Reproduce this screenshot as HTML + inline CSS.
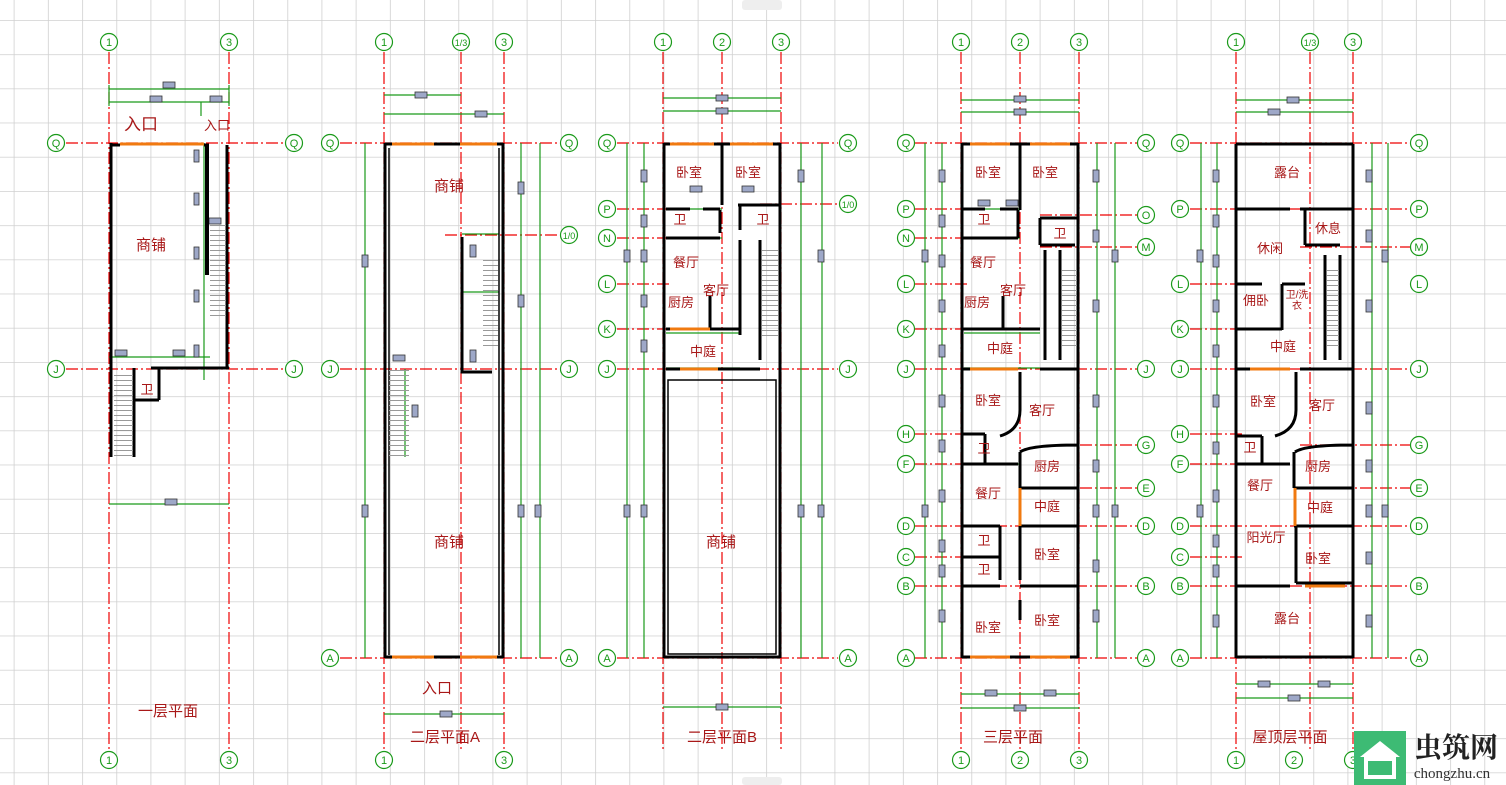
<!DOCTYPE html>
<html><head><meta charset="utf-8"><style>
body{margin:0;background:#fff}
svg{display:block}
.ax{stroke:#e00;stroke-width:1.2;stroke-dasharray:12 3 2 3;fill:none}
.w{stroke:#000;stroke-width:3;fill:none}
.w2{stroke:#000;stroke-width:1.5;fill:none}
.g{stroke:#1a9a1a;stroke-width:1.2;fill:none}
.o{stroke:#f07a10;stroke-width:3;fill:none}
.c{stroke:#1a9a1a;stroke-width:1.2;fill:#fff}
.ct{fill:#1a9a1a;font:11px "Liberation Sans",sans-serif;text-anchor:middle}
.t{fill:#a81818;font:13px "Liberation Sans","Noto Sans CJK SC",sans-serif;text-anchor:middle}
.tl{fill:#a81818;font:15px "Liberation Sans","Noto Sans CJK SC",sans-serif;text-anchor:middle}
.b{fill:#9ea8c8;stroke:#333;stroke-width:.8}
</style></head><body>
<svg width="1506" height="785" viewBox="0 0 1506 785" xmlns="http://www.w3.org/2000/svg">
<defs>
<pattern id="gr" x="13.7" y="20" width="34.2" height="34.2" patternUnits="userSpaceOnUse">
<path d="M0 0H34.2M0 0V34.2" stroke="#d0d0d0" stroke-width="1.6" fill="none"/>
</pattern>
<pattern id="stp" width="10" height="5" patternUnits="userSpaceOnUse"><path d="M0 0.5H10" stroke="#999" stroke-width="1"/></pattern>
</defs>
<rect width="1506" height="785" fill="#fff"/>
<rect width="1506" height="785" fill="url(#gr)"/>

<!-- ================= PLAN 1 ================= -->
<g>
<path class="ax" d="M109 52V750M229 52V750M66 143H284M66 369H284"/>
<path class="g" d="M109 89H229M109 102H229M109 504H229M109 85V106M229 85V106M201 102V116M204 143V380M123 357H210M109 357H123"/>
<rect class="b" x="163" y="82" width="12" height="6"/><rect class="b" x="150" y="96" width="12" height="6"/><rect class="b" x="210" y="96" width="12" height="6"/><rect class="b" x="165" y="499" width="12" height="6"/>
<rect class="b" x="194" y="150" width="5" height="12"/><rect class="b" x="194" y="193" width="5" height="12"/><rect class="b" x="194" y="247" width="5" height="12"/><rect class="b" x="194" y="290" width="5" height="12"/><rect class="b" x="194" y="345" width="5" height="12"/>
<rect class="b" x="115" y="350" width="12" height="6"/><rect class="b" x="173" y="350" width="12" height="6"/><rect class="b" x="209" y="218" width="12" height="6"/>
<path class="w" d="M111 143V457M111 145H120M204 145H209M227 145V369M151 368H229M134 368V457M134 400H159M159 369V400"/>
<path d="M207 145V275" stroke="#000" stroke-width="4"/>
<path class="o" d="M120 144H204"/>
<rect x="114" y="372" width="19" height="85" fill="url(#stp)"/>
<rect x="210" y="225" width="16" height="95" fill="url(#stp)"/>
<text class="tl" x="141" y="130" style="font-size:17px">入口</text>
<text class="t" x="217" y="130">入口</text>
<text class="tl" x="151" y="250">商铺</text>
<text class="t" x="147" y="394">卫</text>
<text class="tl" x="168" y="716">一层平面</text>
</g>

<!-- ================= PLAN 2A ================= -->
<g>
<path class="ax" d="M384 52V750M461 52V750M504 52V750M340 143H560M340 369H560M445 235H560M340 658H560"/>
<path class="g" d="M384 95H461M384 114H504M384 714H504M365 143V658M521 143V658M540 143V658M462 234H499M462 292H499M405 369V457"/>
<rect class="b" x="415" y="92" width="12" height="6"/><rect class="b" x="475" y="111" width="12" height="6"/><rect class="b" x="440" y="711" width="12" height="6"/>
<rect class="b" x="362" y="255" width="6" height="12"/><rect class="b" x="362" y="505" width="6" height="12"/><rect class="b" x="518" y="182" width="6" height="12"/><rect class="b" x="518" y="295" width="6" height="12"/><rect class="b" x="518" y="505" width="6" height="12"/><rect class="b" x="535" y="505" width="6" height="12"/>
<rect class="b" x="470" y="245" width="6" height="12"/><rect class="b" x="470" y="350" width="6" height="12"/><rect class="b" x="393" y="355" width="12" height="6"/><rect class="b" x="412" y="405" width="6" height="12"/>
<path class="w" d="M385 143V658M503 143V658M385 144H392M434 144H460M497 144H503M385 657H392M434 657H460M497 657H503M462 237V372H492"/>
<path class="w2" d="M389 148V655M499 148V655"/>
<path class="o" d="M392 144H434M460 144H497M392 657H434M460 657H497"/>
<rect x="483" y="260" width="15" height="90" fill="url(#stp)"/>
<rect x="389" y="370" width="20" height="90" fill="url(#stp)"/>
<text class="tl" x="449" y="191">商铺</text>
<text class="tl" x="449" y="547">商铺</text>
<text class="tl" x="437" y="693">入口</text>
<text class="tl" x="445" y="742">二层平面A</text>
</g>

<!-- ================= PLAN 2B ================= -->
<g>
<path class="ax" d="M663 52V750M722 52V750M781 52V750M617 143H838M617 209H670M617 238H670M617 284H670M617 329H670M617 369H838M617 658H838M760 204H838"/>
<path class="g" d="M663 98H781M663 111H781M663 707H781M627 143V658M644 143V658M801 143V658M822 143V658M666 209H722M666 238H722M666 333H740M666 368H740"/>
<rect class="b" x="716" y="95" width="12" height="6"/><rect class="b" x="716" y="108" width="12" height="6"/><rect class="b" x="716" y="704" width="12" height="6"/>
<g><rect class="b" x="624" y="250" width="6" height="12"/><rect class="b" x="624" y="505" width="6" height="12"/><rect class="b" x="641" y="170" width="6" height="12"/><rect class="b" x="641" y="215" width="6" height="12"/><rect class="b" x="641" y="250" width="6" height="12"/><rect class="b" x="641" y="295" width="6" height="12"/><rect class="b" x="641" y="340" width="6" height="12"/><rect class="b" x="641" y="505" width="6" height="12"/><rect class="b" x="798" y="170" width="6" height="12"/><rect class="b" x="798" y="505" width="6" height="12"/><rect class="b" x="818" y="250" width="6" height="12"/><rect class="b" x="818" y="505" width="6" height="12"/><rect class="b" x="690" y="186" width="12" height="6"/><rect class="b" x="742" y="186" width="12" height="6"/></g>
<path class="w" d="M664 143V658M780 143V658M664 657H780M664 144H670M714 144H730M773 144H780M722 144V205M666 238H720M666 209H690M703 209H720M720 210V233M738 205H780M740 205V230M740 240V335M760 240V360M666 329H710M710 329V296M690 329H740M666 369H700M718 369H760"/>
<path class="w2" d="M668 380H776V654H668Z"/>
<path class="o" d="M670 144H714M730 144H773M670 329H710M680 369H718"/>
<rect x="762" y="250" width="16" height="90" fill="url(#stp)"/>
<text class="t" x="689" y="177">卧室</text><text class="t" x="748" y="177">卧室</text>
<text class="t" x="680" y="224">卫</text><text class="t" x="763" y="224">卫</text>
<text class="t" x="686" y="267">餐厅</text><text class="t" x="716" y="295">客厅</text>
<text class="t" x="681" y="307">厨房</text><text class="t" x="703" y="356">中庭</text>
<text class="tl" x="721" y="547">商铺</text>
<text class="tl" x="722" y="742">二层平面B</text>
</g>

<!-- ================= PLAN 3 ================= -->
<g>
<path class="ax" d="M961 52V750M1020 52V750M1079 52V750M915 143H1137M915 209H968M915 238H968M915 284H968M915 329H968M915 369H1137M915 434H968M915 464H968M915 526H1137M915 557H968M915 586H1137M915 658H1137M1040 215H1137M1040 247H1137M1060 445H1137M1060 488H1137"/>
<path class="g" d="M961 100H1079M961 112H1079M961 694H1079M961 708H1079M925 143V658M942 143V658M1097 143V658M1115 143V658M964 209H1020M964 238H1020M964 333H1040M964 368H1040M964 464H1020"/>
<rect class="b" x="1014" y="96" width="12" height="6"/><rect class="b" x="1014" y="109" width="12" height="6"/><rect class="b" x="985" y="690" width="12" height="6"/><rect class="b" x="1044" y="690" width="12" height="6"/><rect class="b" x="1014" y="705" width="12" height="6"/>
<g><rect class="b" x="922" y="250" width="6" height="12"/><rect class="b" x="922" y="505" width="6" height="12"/><rect class="b" x="939" y="170" width="6" height="12"/><rect class="b" x="939" y="215" width="6" height="12"/><rect class="b" x="939" y="255" width="6" height="12"/><rect class="b" x="939" y="300" width="6" height="12"/><rect class="b" x="939" y="345" width="6" height="12"/><rect class="b" x="939" y="395" width="6" height="12"/><rect class="b" x="939" y="440" width="6" height="12"/><rect class="b" x="939" y="490" width="6" height="12"/><rect class="b" x="939" y="540" width="6" height="12"/><rect class="b" x="939" y="565" width="6" height="12"/><rect class="b" x="939" y="610" width="6" height="12"/><rect class="b" x="1093" y="170" width="6" height="12"/><rect class="b" x="1093" y="230" width="6" height="12"/><rect class="b" x="1093" y="300" width="6" height="12"/><rect class="b" x="1093" y="395" width="6" height="12"/><rect class="b" x="1093" y="460" width="6" height="12"/><rect class="b" x="1093" y="505" width="6" height="12"/><rect class="b" x="1093" y="560" width="6" height="12"/><rect class="b" x="1093" y="610" width="6" height="12"/><rect class="b" x="1112" y="250" width="6" height="12"/><rect class="b" x="1112" y="505" width="6" height="12"/><rect class="b" x="978" y="200" width="12" height="6"/><rect class="b" x="1006" y="200" width="12" height="6"/></g>
<path class="w" d="M962 143V658M1078 143V658M962 657H970M1010 657H1030M1070 657H1078M962 144H970M1010 144H1030M1070 144H1078M1020 144V210M962 238H1018M962 209H985M1000 209H1018M1018 210V238M1040 218H1078M1040 218V245M1040 245H1075M1045 250V360M1060 250V360M962 329H1010M1003 329V296M1000 329H1040M962 369H1018M1040 369H1078M962 434H985M985 434V464M962 464H1018M1020 372V410Q1020 430 1000 436M1020 452Q1030 445 1078 445M1020 452V488M1020 488H1078M1020 526H1078M1020 526V580M962 526H1000M962 557H1000M1000 526V580M962 586H1000M1020 586H1078M1020 600V620"/>
<path class="o" d="M970 144H1010M1030 144H1070M970 657H1010M1030 657H1070M970 369H1018M1020 488V526"/>
<rect x="1062" y="270" width="15" height="80" fill="url(#stp)"/>
<text class="t" x="988" y="177">卧室</text><text class="t" x="1045" y="177">卧室</text>
<text class="t" x="984" y="224">卫</text><text class="t" x="1060" y="238">卫</text>
<text class="t" x="983" y="267">餐厅</text><text class="t" x="1013" y="295">客厅</text>
<text class="t" x="977" y="307">厨房</text><text class="t" x="1000" y="353">中庭</text>
<text class="t" x="988" y="405">卧室</text><text class="t" x="1042" y="415">客厅</text>
<text class="t" x="984" y="453">卫</text><text class="t" x="1047" y="471">厨房</text>
<text class="t" x="988" y="498">餐厅</text><text class="t" x="1047" y="511">中庭</text>
<text class="t" x="984" y="545">卫</text><text class="t" x="1047" y="559">卧室</text>
<text class="t" x="984" y="574">卫</text><text class="t" x="988" y="632">卧室</text>
<text class="t" x="1047" y="625">卧室</text>
<text class="tl" x="1013" y="742">三层平面</text>
</g>

<!-- ================= ROOF ================= -->
<g>
<path class="ax" d="M1236 52V750M1310 52V750M1353 52V750M1190 143H1410M1190 209H1410M1190 284H1243M1190 329H1243M1190 369H1410M1190 434H1243M1190 464H1243M1190 526H1410M1190 557H1243M1190 586H1410M1190 658H1410M1300 247H1410M1300 445H1410M1300 488H1410"/>
<path class="g" d="M1236 100H1353M1236 112H1353M1236 684H1353M1236 698H1353M1201 143V658M1217 143V658M1372 143V658M1388 143V658"/>
<rect class="b" x="1287" y="97" width="12" height="6"/><rect class="b" x="1268" y="109" width="12" height="6"/><rect class="b" x="1258" y="681" width="12" height="6"/><rect class="b" x="1318" y="681" width="12" height="6"/><rect class="b" x="1288" y="695" width="12" height="6"/>
<g><rect class="b" x="1197" y="250" width="6" height="12"/><rect class="b" x="1197" y="505" width="6" height="12"/><rect class="b" x="1213" y="170" width="6" height="12"/><rect class="b" x="1213" y="215" width="6" height="12"/><rect class="b" x="1213" y="255" width="6" height="12"/><rect class="b" x="1213" y="300" width="6" height="12"/><rect class="b" x="1213" y="345" width="6" height="12"/><rect class="b" x="1213" y="395" width="6" height="12"/><rect class="b" x="1213" y="442" width="6" height="12"/><rect class="b" x="1213" y="490" width="6" height="12"/><rect class="b" x="1213" y="535" width="6" height="12"/><rect class="b" x="1213" y="565" width="6" height="12"/><rect class="b" x="1213" y="615" width="6" height="12"/><rect class="b" x="1366" y="170" width="6" height="12"/><rect class="b" x="1366" y="230" width="6" height="12"/><rect class="b" x="1366" y="300" width="6" height="12"/><rect class="b" x="1366" y="402" width="6" height="12"/><rect class="b" x="1366" y="460" width="6" height="12"/><rect class="b" x="1366" y="505" width="6" height="12"/><rect class="b" x="1366" y="552" width="6" height="12"/><rect class="b" x="1366" y="615" width="6" height="12"/><rect class="b" x="1382" y="250" width="6" height="12"/><rect class="b" x="1382" y="505" width="6" height="12"/></g>
<path class="w" d="M1236 144H1353M1236 144V658M1236 657H1353M1353 144V658M1237 209H1290M1300 209H1352M1305 209V245M1305 245H1340M1325 255V360M1340 255V360M1237 284H1262M1282 284V330M1282 284H1305M1237 329H1282M1237 369H1290M1300 369H1352M1296 372V410Q1296 430 1275 436M1237 436H1262M1262 436V464M1237 464H1290M1295 452Q1305 445 1352 445M1294 452V488M1294 488H1352M1294 526H1352M1296 526V583M1237 586H1290M1296 583H1352"/>
<path class="o" d="M1250 369H1290M1295 488V526M1305 586H1345"/>
<rect x="1327" y="270" width="12" height="80" fill="url(#stp)"/>
<text class="t" x="1287" y="177">露台</text><text class="t" x="1328" y="233">休息</text>
<text class="t" x="1270" y="253">休闲</text><text class="t" x="1256" y="305">佣卧</text>
<text class="t" x="1297" y="298" style="font-size:10px">卫/洗</text><text class="t" x="1297" y="309" style="font-size:10px">衣</text>
<text class="t" x="1283" y="351">中庭</text>
<text class="t" x="1263" y="406">卧室</text><text class="t" x="1322" y="410">客厅</text>
<text class="t" x="1250" y="452">卫</text><text class="t" x="1318" y="471">厨房</text>
<text class="t" x="1260" y="490">餐厅</text><text class="t" x="1320" y="512">中庭</text>
<text class="t" x="1266" y="542">阳光厅</text><text class="t" x="1318" y="563">卧室</text>
<text class="t" x="1287" y="623">露台</text>
<text class="tl" x="1290" y="742">屋顶层平面</text>
</g>

<!-- ================= AXIS CIRCLES ================= -->
<g>
<circle class="c" cx="109" cy="42" r="8.5"/><text class="ct" x="109" y="46">1</text>
<circle class="c" cx="229" cy="42" r="8.5"/><text class="ct" x="229" y="46">3</text>
<circle class="c" cx="109" cy="760" r="8.5"/><text class="ct" x="109" y="764">1</text>
<circle class="c" cx="229" cy="760" r="8.5"/><text class="ct" x="229" y="764">3</text>
<circle class="c" cx="56" cy="143" r="8.5"/><text class="ct" x="56" y="147">Q</text>
<circle class="c" cx="294" cy="143" r="8.5"/><text class="ct" x="294" y="147">Q</text>
<circle class="c" cx="56" cy="369" r="8.5"/><text class="ct" x="56" y="373">J</text>
<circle class="c" cx="294" cy="369" r="8.5"/><text class="ct" x="294" y="373">J</text>

<circle class="c" cx="384" cy="42" r="8.5"/><text class="ct" x="384" y="46">1</text>
<circle class="c" cx="461" cy="42" r="8.5"/><text class="ct" x="461" y="46" style="font-size:9px">1/3</text>
<circle class="c" cx="504" cy="42" r="8.5"/><text class="ct" x="504" y="46">3</text>
<circle class="c" cx="384" cy="760" r="8.5"/><text class="ct" x="384" y="764">1</text>
<circle class="c" cx="504" cy="760" r="8.5"/><text class="ct" x="504" y="764">3</text>
<circle class="c" cx="330" cy="143" r="8.5"/><text class="ct" x="330" y="147">Q</text>
<circle class="c" cx="569" cy="143" r="8.5"/><text class="ct" x="569" y="147">Q</text>
<circle class="c" cx="569" cy="235" r="8.5"/><text class="ct" x="569" y="239" style="font-size:9px">1/0</text>
<circle class="c" cx="330" cy="369" r="8.5"/><text class="ct" x="330" y="373">J</text>
<circle class="c" cx="569" cy="369" r="8.5"/><text class="ct" x="569" y="373">J</text>
<circle class="c" cx="330" cy="658" r="8.5"/><text class="ct" x="330" y="662">A</text>
<circle class="c" cx="569" cy="658" r="8.5"/><text class="ct" x="569" y="662">A</text>

<circle class="c" cx="663" cy="42" r="8.5"/><text class="ct" x="663" y="46">1</text>
<circle class="c" cx="722" cy="42" r="8.5"/><text class="ct" x="722" y="46">2</text>
<circle class="c" cx="781" cy="42" r="8.5"/><text class="ct" x="781" y="46">3</text>
<circle class="c" cx="607" cy="143" r="8.5"/><text class="ct" x="607" y="147">Q</text>
<circle class="c" cx="607" cy="209" r="8.5"/><text class="ct" x="607" y="213">P</text>
<circle class="c" cx="607" cy="238" r="8.5"/><text class="ct" x="607" y="242">N</text>
<circle class="c" cx="607" cy="284" r="8.5"/><text class="ct" x="607" y="288">L</text>
<circle class="c" cx="607" cy="329" r="8.5"/><text class="ct" x="607" y="333">K</text>
<circle class="c" cx="607" cy="369" r="8.5"/><text class="ct" x="607" y="373">J</text>
<circle class="c" cx="607" cy="658" r="8.5"/><text class="ct" x="607" y="662">A</text>
<circle class="c" cx="848" cy="143" r="8.5"/><text class="ct" x="848" y="147">Q</text>
<circle class="c" cx="848" cy="204" r="8.5"/><text class="ct" x="848" y="208" style="font-size:9px">1/0</text>
<circle class="c" cx="848" cy="369" r="8.5"/><text class="ct" x="848" y="373">J</text>
<circle class="c" cx="848" cy="658" r="8.5"/><text class="ct" x="848" y="662">A</text>

<circle class="c" cx="961" cy="42" r="8.5"/><text class="ct" x="961" y="46">1</text>
<circle class="c" cx="1020" cy="42" r="8.5"/><text class="ct" x="1020" y="46">2</text>
<circle class="c" cx="1079" cy="42" r="8.5"/><text class="ct" x="1079" y="46">3</text>
<circle class="c" cx="961" cy="760" r="8.5"/><text class="ct" x="961" y="764">1</text>
<circle class="c" cx="1020" cy="760" r="8.5"/><text class="ct" x="1020" y="764">2</text>
<circle class="c" cx="1079" cy="760" r="8.5"/><text class="ct" x="1079" y="764">3</text>
<circle class="c" cx="906" cy="143" r="8.5"/><text class="ct" x="906" y="147">Q</text>
<circle class="c" cx="906" cy="209" r="8.5"/><text class="ct" x="906" y="213">P</text>
<circle class="c" cx="906" cy="238" r="8.5"/><text class="ct" x="906" y="242">N</text>
<circle class="c" cx="906" cy="284" r="8.5"/><text class="ct" x="906" y="288">L</text>
<circle class="c" cx="906" cy="329" r="8.5"/><text class="ct" x="906" y="333">K</text>
<circle class="c" cx="906" cy="369" r="8.5"/><text class="ct" x="906" y="373">J</text>
<circle class="c" cx="906" cy="434" r="8.5"/><text class="ct" x="906" y="438">H</text>
<circle class="c" cx="906" cy="464" r="8.5"/><text class="ct" x="906" y="468">F</text>
<circle class="c" cx="906" cy="526" r="8.5"/><text class="ct" x="906" y="530">D</text>
<circle class="c" cx="906" cy="557" r="8.5"/><text class="ct" x="906" y="561">C</text>
<circle class="c" cx="906" cy="586" r="8.5"/><text class="ct" x="906" y="590">B</text>
<circle class="c" cx="906" cy="658" r="8.5"/><text class="ct" x="906" y="662">A</text>
<circle class="c" cx="1146" cy="143" r="8.5"/><text class="ct" x="1146" y="147">Q</text>
<circle class="c" cx="1146" cy="215" r="8.5"/><text class="ct" x="1146" y="219">O</text>
<circle class="c" cx="1146" cy="247" r="8.5"/><text class="ct" x="1146" y="251">M</text>
<circle class="c" cx="1146" cy="369" r="8.5"/><text class="ct" x="1146" y="373">J</text>
<circle class="c" cx="1146" cy="445" r="8.5"/><text class="ct" x="1146" y="449">G</text>
<circle class="c" cx="1146" cy="488" r="8.5"/><text class="ct" x="1146" y="492">E</text>
<circle class="c" cx="1146" cy="526" r="8.5"/><text class="ct" x="1146" y="530">D</text>
<circle class="c" cx="1146" cy="586" r="8.5"/><text class="ct" x="1146" y="590">B</text>
<circle class="c" cx="1146" cy="658" r="8.5"/><text class="ct" x="1146" y="662">A</text>

<circle class="c" cx="1236" cy="42" r="8.5"/><text class="ct" x="1236" y="46">1</text>
<circle class="c" cx="1310" cy="42" r="8.5"/><text class="ct" x="1310" y="46" style="font-size:9px">1/3</text>
<circle class="c" cx="1353" cy="42" r="8.5"/><text class="ct" x="1353" y="46">3</text>
<circle class="c" cx="1236" cy="760" r="8.5"/><text class="ct" x="1236" y="764">1</text>
<circle class="c" cx="1294" cy="760" r="8.5"/><text class="ct" x="1294" y="764">2</text>
<circle class="c" cx="1353" cy="760" r="8.5"/><text class="ct" x="1353" y="764">3</text>
<circle class="c" cx="1180" cy="143" r="8.5"/><text class="ct" x="1180" y="147">Q</text>
<circle class="c" cx="1180" cy="209" r="8.5"/><text class="ct" x="1180" y="213">P</text>
<circle class="c" cx="1180" cy="284" r="8.5"/><text class="ct" x="1180" y="288">L</text>
<circle class="c" cx="1180" cy="329" r="8.5"/><text class="ct" x="1180" y="333">K</text>
<circle class="c" cx="1180" cy="369" r="8.5"/><text class="ct" x="1180" y="373">J</text>
<circle class="c" cx="1180" cy="434" r="8.5"/><text class="ct" x="1180" y="438">H</text>
<circle class="c" cx="1180" cy="464" r="8.5"/><text class="ct" x="1180" y="468">F</text>
<circle class="c" cx="1180" cy="526" r="8.5"/><text class="ct" x="1180" y="530">D</text>
<circle class="c" cx="1180" cy="557" r="8.5"/><text class="ct" x="1180" y="561">C</text>
<circle class="c" cx="1180" cy="586" r="8.5"/><text class="ct" x="1180" y="590">B</text>
<circle class="c" cx="1180" cy="658" r="8.5"/><text class="ct" x="1180" y="662">A</text>
<circle class="c" cx="1419" cy="143" r="8.5"/><text class="ct" x="1419" y="147">Q</text>
<circle class="c" cx="1419" cy="209" r="8.5"/><text class="ct" x="1419" y="213">P</text>
<circle class="c" cx="1419" cy="247" r="8.5"/><text class="ct" x="1419" y="251">M</text>
<circle class="c" cx="1419" cy="284" r="8.5"/><text class="ct" x="1419" y="288">L</text>
<circle class="c" cx="1419" cy="369" r="8.5"/><text class="ct" x="1419" y="373">J</text>
<circle class="c" cx="1419" cy="445" r="8.5"/><text class="ct" x="1419" y="449">G</text>
<circle class="c" cx="1419" cy="488" r="8.5"/><text class="ct" x="1419" y="492">E</text>
<circle class="c" cx="1419" cy="526" r="8.5"/><text class="ct" x="1419" y="530">D</text>
<circle class="c" cx="1419" cy="586" r="8.5"/><text class="ct" x="1419" y="590">B</text>
<circle class="c" cx="1419" cy="658" r="8.5"/><text class="ct" x="1419" y="662">A</text>
</g>

<rect x="742" y="0" width="40" height="10" rx="3" fill="#eee"/>
<rect x="742" y="777" width="40" height="8" rx="3" fill="#eee"/>

<!-- logo -->
<rect x="1354" y="731" width="52" height="54" fill="#3dbb74"/>
<path d="M1360 757L1380 741L1400 757Z" fill="#fff"/>
<rect x="1364" y="757" width="32" height="22" fill="#fff"/>
<rect x="1368" y="761" width="24" height="14" fill="#3dbb74"/>
<text x="1456" y="757" style="font:bold 28px 'Noto Serif CJK SC','Liberation Serif',serif;text-anchor:middle" fill="#222">虫筑网</text>
<text x="1452" y="778" style="font:15px 'Liberation Serif',serif;text-anchor:middle" fill="#333">chongzhu.cn</text>
</svg>
</body></html>
